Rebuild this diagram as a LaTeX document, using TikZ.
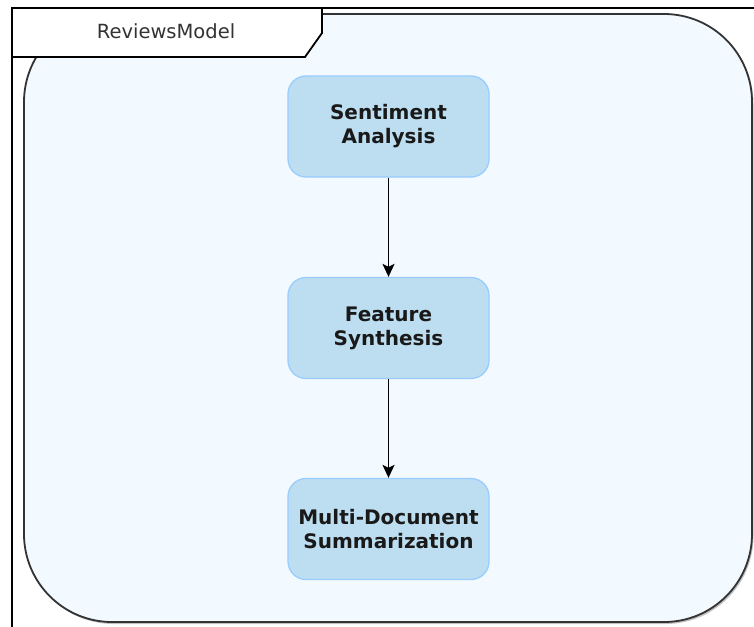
\documentclass[tikz,border=0pt]{standalone}
\usepackage{fontspec}
\setmainfont{DejaVu Sans}
\usetikzlibrary{arrows.meta}
\definecolor{panelfill}{RGB}{243,250,255}
\definecolor{panelline}{RGB}{51,51,51}
\definecolor{stepfill}{RGB}{189,222,241}
\definecolor{stepline}{RGB}{153,204,255}
\definecolor{labeltext}{RGB}{51,51,51}
\tikzset{
  stepbox/.style={draw=stepline, fill=stepfill, line width=1.3pt, rounded corners=18pt,
    minimum width=201pt, minimum height=101pt, align=center,
    font=\fontsize{20}{24}\selectfont\bfseries, text=black!90},
  flow/.style={draw=black, line width=1.8pt, -{Stealth[length=13pt,width=12pt,inset=3pt]}},
  frameline/.style={draw=black, line width=1.8pt}
}
\begin{document}
\begin{tikzpicture}[x=1pt,y=-1pt]
  \useasboundingbox (0,0) rectangle (754,626);
  \clip (0,0) rectangle (754,626);
  \fill[white] (0,0) rectangle (754,626);
  % outer frame running off the page
  \draw[frameline] (12,640) -- (12,8) -- (770,8);
  % container panel with soft shadow
  \fill[black!40, opacity=0.6, rounded corners=88pt] (25.5,16) rectangle (753.5,624);
  \draw[draw=panelline, fill=panelfill, line width=1.8pt, rounded corners=88pt]
    (24,14) rectangle (752,622);
  % name tab
  \draw[frameline, fill=white] (12,8) -- (322,8) -- (322,33) -- (305,57) -- (12,57) -- cycle;
  \node[text=labeltext, font=\fontsize{19.5}{22}\selectfont] (title) at (166,31) {ReviewsModel};
  % pipeline steps
  \node[stepbox] (sa) at (388.5,126.5) {Sentiment\\Analysis};
  \node[stepbox] (fs) at (388.5,328) {Feature\\Synthesis};
  \node[stepbox] (md) at (388.5,529) {Multi-Document\\Summarization};
  \draw[flow] (sa) -- (fs);
  \draw[flow] (fs) -- (md);
\end{tikzpicture}
\end{document}
